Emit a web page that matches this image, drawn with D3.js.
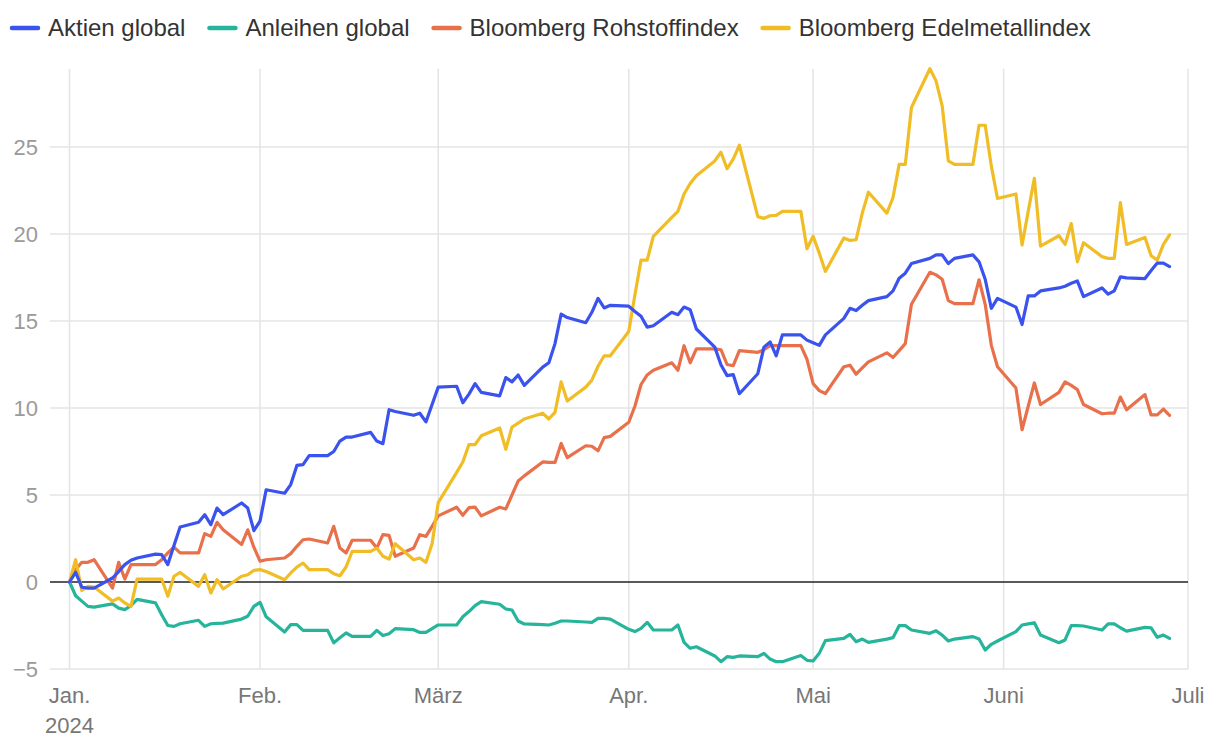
<!DOCTYPE html>
<html>
<head>
<meta charset="utf-8">
<script src="https://cdn.jsdelivr.net/npm/d3@7"></script>
<style>
  body { margin: 0; background: #fff; }
  svg { display: block; font-family: "Liberation Sans", Arial, sans-serif; }
</style>
</head>
<body>
<svg id="chart" width="1220" height="746"></svg>
<script>
// performance in %, every trading day Jan 1 - Jun 28 2024
var aktien = [
  0, 0.55, -0.3, -0.35, -0.35, 0.23, 0.6, 1.0, 1.25, 1.38, 1.6, 1.57, 1.0, 2.1, 3.16, 3.43, 3.87, 3.3, 4.25, 3.87, 4.54, 4.25, 2.95,
  3.5, 5.3, 5.1, 5.6, 6.7, 6.75, 7.26, 7.26, 7.5, 8.1, 8.33, 8.33, 8.6, 8.1, 7.95, 9.9, 9.8, 9.58, 9.7, 9.2, 10.2,
  11.2, 11.25, 10.3, 10.8, 11.4, 10.9, 10.7, 11.75, 11.5, 11.9, 11.3, 12.35, 12.6, 13.7, 15.4, 15.2, 14.9, 15.5, 16.3, 15.75, 15.9,
  15.85, 15.55, 15.27, 14.65, 14.73, 15.5, 15.36, 15.8, 15.65, 14.54, 13.5, 12.49, 11.86, 11.92, 10.82, 11.97, 13.5, 13.8, 13.0, 14.2, 14.2, 13.9,
  13.75, 13.6, 14.2, 15.15, 15.73, 15.6, 15.9, 16.17, 16.4, 16.73, 17.46, 17.75, 18.3, 18.6, 18.8, 18.8, 18.3, 18.6, 18.8, 18.4, 17.4, 15.73, 16.3,
  15.8, 14.8, 16.44, 16.44, 16.73, 16.9, 17.0, 17.17, 17.3, 16.4, 16.9, 16.54, 16.73, 17.54, 17.48, 17.44, 17.9, 18.33, 18.33, 18.13
];
var anleihen = [
  0, -0.79, -1.1, -1.4, -1.44, -1.26, -1.5, -1.59, -1.36, -1.0, -1.2, -1.88, -2.5, -2.55, -2.4, -2.2, -2.55, -2.4, -2.38, -2.36, -2.13, -1.97, -1.4,
  -1.17, -2.0, -2.87, -2.45, -2.45, -2.78, -2.78, -2.78, -3.5, -3.2, -2.93, -3.12, -3.12, -2.78, -3.08, -2.97, -2.68, -2.74, -2.9, -2.9, -2.68,
  -2.47, -2.47, -2.0, -1.7, -1.36, -1.13, -1.28, -1.55, -1.61, -2.24, -2.41, -2.45, -2.47, -2.37, -2.24, -2.24, -2.3, -2.32, -2.09, -2.09, -2.13,
  -2.72, -2.85, -2.66, -2.32, -2.76, -2.76, -2.47, -3.47, -3.81, -3.72, -4.25, -4.58, -4.29, -4.33, -4.25, -4.29, -4.1, -4.43, -4.58, -4.58, -4.23, -4.5,
  -4.54, -4.1, -3.37, -3.24, -3.01, -3.43, -3.28, -3.47, -3.28, -3.2, -2.51, -2.51, -2.76, -2.95, -2.8, -3.05, -3.39, -3.28, -3.14, -3.28, -3.91, -3.58, -3.39,
  -2.85, -2.47, -2.41, -2.34, -3.05, -3.49, -3.33, -2.51, -2.51, -2.53, -2.76, -2.41, -2.41, -2.63, -2.82, -2.61, -2.63, -3.18, -3.05, -3.24
];
var rohstoff = [
  0, 0.7, 1.13, 1.13, 1.28, -0.35, 1.13, 0.17, 1.0, 1.0, 1.0, 1.28, 1.67, 2.0, 1.67, 1.67, 2.78, 2.62, 3.43, 3.0, 2.15, 3.0, 2.0,
  1.2, 1.28, 1.38, 1.63, 2.05, 2.43, 2.47, 2.24, 3.2, 1.95, 1.67, 2.4, 2.4, 1.95, 2.72, 2.68, 1.48, 1.95, 2.72, 2.62, 3.2,
  3.8, 4.3, 3.83, 4.27, 4.3, 3.8, 4.3, 4.2, 5.0, 5.8, 6.1, 6.9, 6.87, 6.87, 7.96, 7.15, 7.83, 7.8, 7.54, 8.3, 8.37,
  9.18, 10.1, 11.35, 11.9, 12.17, 12.6, 12.17, 13.58, 12.6, 13.4, 13.4, 13.35, 12.5, 12.43, 13.3, 13.2, 13.35, 13.58, 13.58, 13.58, 13.58, 12.8,
  11.4, 11.0, 10.83, 12.37, 12.46, 11.94, 12.3, 12.65, 13.17, 12.9, 13.3, 13.7, 15.96, 17.8, 17.65, 17.4, 16.17, 16.0, 16.0, 17.37, 15.96, 13.6, 12.37,
  11.15, 8.75, 10.1, 11.44, 10.2, 10.9, 11.5, 11.3, 11.06, 10.2, 9.67, 9.7, 9.7, 10.63, 9.9, 10.77, 9.6, 9.6, 9.94, 9.58
];
var edelmetall = [
  0, 1.28, -0.48, -0.25, -0.29, -1.1, -0.92, -1.2, -1.4, 0.17, 0.17, 0.17, -0.82, 0.33, 0.55, -0.25, 0.42, -0.63, 0.13, -0.4, 0.33, 0.42, 0.67,
  0.71, 0.6, 0.13, 0.52, 0.86, 1.09, 0.71, 0.71, 0.48, 0.36, 0.86, 1.76, 1.76, 1.95, 1.48, 1.32, 2.2, 1.28, 1.38, 1.13, 2.2,
  4.56, 6.3, 6.9, 7.9, 7.9, 8.4, 8.85, 7.63, 8.9, 9.13, 9.37, 9.7, 9.37, 9.75, 11.5, 10.4, 11.2, 11.6, 12.4, 13.0, 13.0,
  14.4, 16.5, 18.5, 18.5, 19.87, 20.96, 21.3, 22.3, 22.9, 23.35, 24.2, 24.7, 23.75, 24.3, 25.1, 21.0, 20.9, 21.05, 21.07, 21.3, 21.3, 19.15,
  19.87, 18.9, 17.85, 19.77, 19.63, 19.67, 21.2, 22.4, 21.2, 22.1, 24.0, 24.0, 27.27, 29.5, 28.8, 27.37, 24.2, 24.0, 24.0, 26.25, 26.25, 23.9, 22.04,
  22.3, 19.37, 21.3, 23.2, 19.3, 19.9, 19.4, 20.6, 18.4, 19.5, 18.7, 18.6, 18.6, 21.8, 19.4, 19.8, 18.75, 18.5, 19.4, 19.95
];

var seriesNames = ["Aktien global", "Anleihen global", "Bloomberg Rohstoffindex", "Bloomberg Edelmetallindex"];
var seriesColors = ["#3a52ee", "#26b49b", "#e8704b", "#f0bd26"];
var monthLabels = ["Jan.", "Feb.", "März", "Apr.", "Mai", "Juni", "Juli"];
var yTicks = [-5, 0, 5, 10, 15, 20, 25];

// trading days (weekdays) of the first half year
var dates = d3.timeDay.range(new Date(2024, 0, 1), new Date(2024, 5, 29))
  .filter(function(d) { return d.getDay() % 6 !== 0; });

var allSeries = [aktien, anleihen, rohstoff, edelmetall];

var svg = d3.select("#chart");
var gridLeft = 50, plotRight = 1188;

var x = d3.scaleTime()
  .domain([new Date(2024, 0, 1), new Date(2024, 6, 1)])
  .range([69.5, plotRight]);

var yMax = d3.max(allSeries, function(s) { return d3.max(s); });
var y = d3.scaleLinear()
  .domain([-5, yMax])
  .range([669, 582 - yMax * 17.4]);

// horizontal grid
svg.append("g").selectAll("line")
  .data(yTicks.filter(function(t) { return t !== 0; }))
  .enter().append("line")
  .attr("x1", gridLeft).attr("x2", plotRight)
  .attr("y1", function(d) { return y(d); }).attr("y2", function(d) { return y(d); })
  .attr("stroke", "#e4e4e4").attr("stroke-width", 1.5);

// vertical grid at month starts
var months = d3.timeMonth.range(new Date(2024, 0, 1), new Date(2024, 6, 2));
svg.append("g").selectAll("line")
  .data(months)
  .enter().append("line")
  .attr("x1", function(d) { return x(d); }).attr("x2", function(d) { return x(d); })
  .attr("y1", y(yMax)).attr("y2", y(-5))
  .attr("stroke", "#e4e4e4").attr("stroke-width", 1.5);

// y labels
svg.append("g").selectAll("text")
  .data(yTicks)
  .enter().append("text")
  .attr("x", 38)
  .attr("y", function(d) { return y(d) + 8; })
  .attr("text-anchor", "end")
  .attr("fill", "#9a9a9a")
  .style("font-size", "22px")
  .text(function(d) { return d3.format("d")(d); });

// x labels
svg.append("g").selectAll("text")
  .data(months)
  .enter().append("text")
  .attr("x", function(d) { return x(d); })
  .attr("y", 703)
  .attr("text-anchor", "middle")
  .attr("fill", "#777")
  .style("font-size", "22px")
  .text(function(d, i) { return monthLabels[i]; });
svg.append("text")
  .attr("x", x(new Date(2024, 0, 1)))
  .attr("y", 733)
  .attr("text-anchor", "middle")
  .attr("fill", "#777")
  .style("font-size", "22px")
  .text("2024");

// zero line
svg.append("line")
  .attr("x1", gridLeft).attr("x2", plotRight)
  .attr("y1", y(0)).attr("y2", y(0))
  .attr("stroke", "#222").attr("stroke-width", 1.5);

var line = d3.line()
  .x(function(d, i) { return x(dates[i]); })
  .y(function(d) { return y(d); });

// draw order: bonds, commodities, precious metals, equities on top
[1, 2, 3, 0].forEach(function(k) {
  svg.append("path")
    .datum(allSeries[k])
    .attr("d", line)
    .attr("fill", "none")
    .attr("stroke", seriesColors[k])
    .attr("stroke-width", 3.2)
    .attr("stroke-linejoin", "round")
    .attr("stroke-linecap", "round");
});

// legend
var lx = 10;
seriesNames.forEach(function(name, i) {
  svg.append("line")
    .attr("x1", lx + 2).attr("x2", lx + 28)
    .attr("y1", 28).attr("y2", 28)
    .attr("stroke", seriesColors[i])
    .attr("stroke-width", 4.5)
    .attr("stroke-linecap", "round");
  var t = svg.append("text")
    .attr("x", lx + 38)
    .attr("y", 36)
    .attr("fill", "#333")
    .style("font-size", "24px")
    .text(name);
  lx += 38 + t.node().getComputedTextLength() + 22;
});
</script>
</body>
</html>
